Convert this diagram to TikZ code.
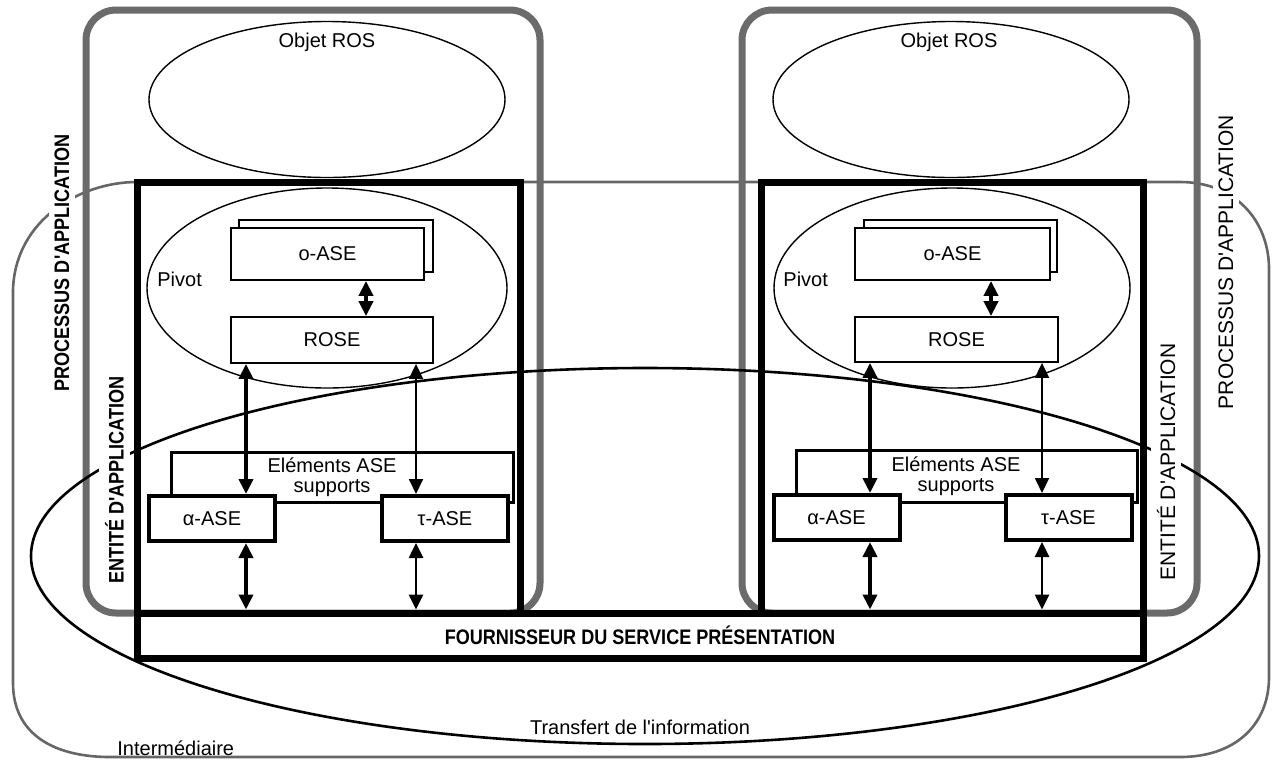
\documentclass[tikz,border=0pt]{standalone}
\usepackage{fontspec}
\usepackage{graphicx}
\setmainfont{Liberation Sans}[Ligatures=TeXOff]
\usetikzlibrary{arrows.meta,shapes.geometric}
\begin{document}
\begin{tikzpicture}[x=0.5pt,y=-0.5pt,
  every node/.style={font=\fontsize{10}{10}\selectfont, inner sep=0pt},
  grayrect/.style={rectangle, draw=black!58, line width=3.5pt, rounded corners=15pt},
  ell/.style={ellipse, draw, line width=0.7pt},
  thinbox/.style={rectangle, draw, line width=0.9pt, fill=white},
  asebox/.style={rectangle, draw, line width=2pt, fill=white, minimum width=63pt, minimum height=22.5pt},
  supbox/.style={rectangle, draw, line width=1.5pt},
  thickbox/.style={rectangle, draw, line width=3.5pt},
  lab/.style={rotate=90, fill=white, inner sep=3pt, font=\fontsize{10.5}{12}\selectfont},
  blab/.style={rotate=90, fill=white, inner sep=3pt, font=\fontsize{10.5}{12}\selectfont\bfseries},
  dbl/.style={{Triangle[width=7pt,length=7.5pt]}-{Triangle[width=7pt,length=7.5pt]}},
  fat/.style={dbl, line width=2pt},
  slim/.style={dbl, line width=0.9pt},
  mid/.style={dbl, line width=1.3pt},
]
\useasboundingbox (0,0) rectangle (1273,762);
\fill[white] (0,0) rectangle (1273,762);

% Intermediaire outline
\draw[black!60, line width=1.3pt] (137,182) .. controls (80,182) and (15,220) .. (13,290)
  -- (13,683) .. controls (13,735) and (55,757) .. (110,757)
  -- (1180,757) .. controls (1235,757) and (1269,725) .. (1269,677)
  -- (1269,267) .. controls (1268,220) and (1235,182) .. (1180,182) -- cycle;

% Processus d'application rounded rectangles
\node[grayrect, minimum width=227pt, minimum height=301.5pt] (procL) at (313,311.5) {};
\node[grayrect, minimum width=227.5pt, minimum height=301.5pt] (procR) at (969.5,311.5) {};

% Objet ROS ellipses
\node[ell, minimum width=178pt, minimum height=78pt] (objL) at (327,99.5) {};
\node[ell, minimum width=178pt, minimum height=78pt] (objR) at (951,99.5) {};
\node (objLt) at (327,42) {Objet ROS};
\node (objRt) at (949,42) {Objet ROS};

% Pivot ellipses
\node[ell, minimum width=180pt, minimum height=100pt] (pivL) at (327,288) {};
\node[ell, minimum width=178pt, minimum height=100pt] (pivR) at (952,288) {};
\node[anchor=west] (pivLt) at (157,279) {Pivot};
\node[anchor=west] (pivRt) at (783,279) {Pivot};

% o-ASE and ROSE boxes
\node[thinbox, minimum width=97pt, minimum height=26pt] (oaseBL) at (336,246) {};
\node[thinbox, minimum width=96.5pt, minimum height=26pt] (oaseL) at (327.5,254) {o-ASE};
\node[thinbox, minimum width=101pt, minimum height=23pt] (roseL) at (332,340) {ROSE};
\node[thinbox, minimum width=96.5pt, minimum height=26pt] (oaseBR) at (960.5,246) {};
\node[thinbox, minimum width=97.5pt, minimum height=26pt] (oaseR) at (952.5,254) {o-ASE};
\node[thinbox, minimum width=101.5pt, minimum height=22.5pt] (roseR) at (956.5,339.5) {ROSE};

% Supporting ASE elements
\node[supbox, minimum width=171pt, minimum height=25pt] (supL) at (342,477) {};
\node[supbox, minimum width=170.5pt, minimum height=26pt] (supR) at (966.5,476) {};
\node[align=center, font=\fontsize{10}{10}\selectfont] (supLt) at (332,477) {Eléments ASE\\supports};
\node[align=center, font=\fontsize{10}{10}\selectfont] (supRt) at (956,476) {Eléments ASE\\supports};

\node[asebox] (alphaL) at (212,518.5) {α-ASE};
\node[asebox] (tauL) at (445,518.5) {τ-ASE};
\node[asebox] (alphaR) at (836.5,517.5) {α-ASE};
\node[asebox] (tauR) at (1068.5,517.5) {τ-ASE};

% Thick boxes: application entities and presentation provider
\node[thickbox, minimum width=191.5pt, minimum height=215.5pt] (boxL) at (328.5,397.5) {};
\node[thickbox, minimum width=191pt, minimum height=215.5pt] (boxR) at (952,397.5) {};
\node[thickbox, minimum width=503pt, minimum height=22.5pt] (bar) at (640,635.5)
  {\fontsize{10.5}{12}\selectfont\scalebox{0.86}[1]{\bfseries FOURNISSEUR DU SERVICE PRÉSENTATION}};

% Arrows
\coordinate (xl1) at (246,0);
\coordinate (xl2) at (416,0);
\coordinate (xl3) at (366,0);
\coordinate (xr1) at (870,0);
\coordinate (xr2) at (1042,0);
\coordinate (xr3) at (991,0);

\draw[fat] (oaseL.south -| xl3) -- (roseL.north -| xl3);
\draw[fat] (roseL.south -| xl1) -- (alphaL.north -| xl1);
\draw[slim] (roseL.south -| xl2) -- (tauL.north -| xl2);
\draw[fat] (alphaL.south -| xl1) -- (bar.north -| xl1);
\draw[mid] (tauL.south -| xl2) -- (bar.north -| xl2);

\draw[fat] (oaseR.south -| xr3) -- (roseR.north -| xr3);
\draw[fat] (roseR.south -| xr1) -- (alphaR.north -| xr1);
\draw[slim] (roseR.south -| xr2) -- (tauR.north -| xr2);
\draw[fat] (alphaR.south -| xr1) -- (bar.north -| xr1);
\draw[mid] (tauR.south -| xr2) -- (bar.north -| xr2);

% Transfert de l'information ellipse
\node[ellipse, draw, line width=1.3pt, minimum width=614pt, minimum height=188pt] (transf) at (645,556) {};
\node (transft) at (640,727) {Transfert de l'information};
\node[anchor=west] (interm) at (117,748) {Intermédiaire};

% Rotated labels
\node[blab] (lpa) at (62,263) {\scalebox{0.86}[1]{PROCESSUS D'APPLICATION}};
\node[blab] (lea) at (114.5,480) {\scalebox{0.86}[1]{ENTITÉ D'APPLICATION}};
\node[lab] (rea) at (1166,462) {ENTITÉ D'APPLICATION};
\node[lab] (rpa) at (1226,262) {PROCESSUS D'APPLICATION};
\end{tikzpicture}
\end{document}
